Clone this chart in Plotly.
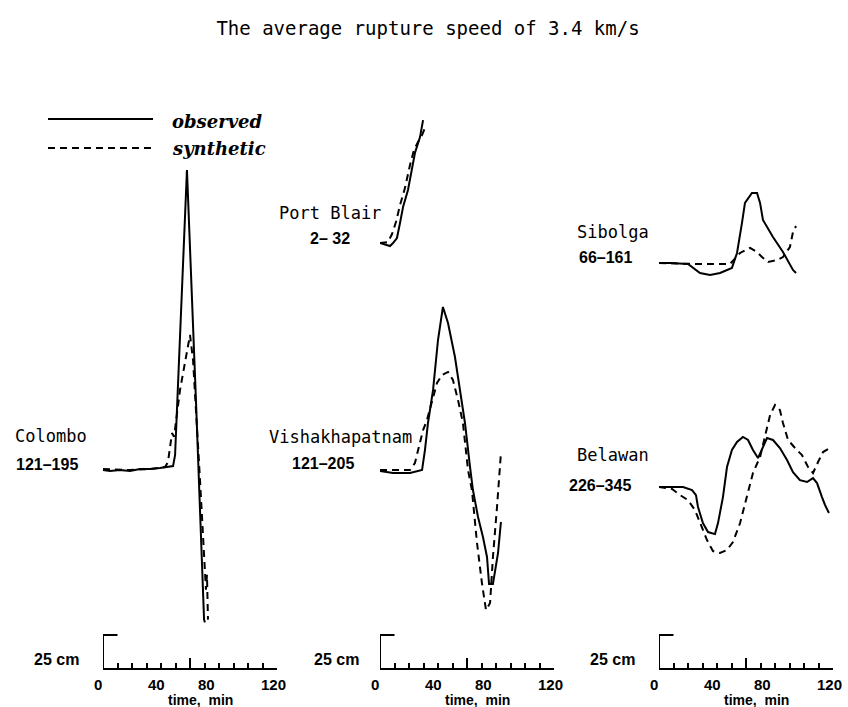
import plotly.graph_objects as go

# ---------------- data (time in min since window start, amplitude in cm) ----------------
colombo_obs_t = [0, 4.8, 11.7, 18.6, 25.5, 32.4, 39.3, 46.2, 48.3, 49.7, 57.9, 64.1, 69.7, 70.3]
colombo_obs_cm = [0, -0.7, 0, -0.7, 0.7, 0.7, 1.5, 2.2, 2.9, 11, 220.6, 51.5, -110, -112]
colombo_syn_t = [0, 18.6, 32.4, 42.8, 44.8, 47.6, 49.0, 53.1, 60.0, 62.1, 66.9, 69.7, 71.0, 71.7, 72.4]
colombo_syn_cm = [0.7, 0, 0.7, 2.2, 5.9, 27.2, 24.5, 58.8, 99.3, 80.9, -7.4, -66, -88, -77, -110]

portblair_obs_t = [0, 3.4, 6.9, 9.0, 11.7, 13.8, 15.9, 19.3, 22.1, 24.1, 27.6, 29.7]
portblair_obs_cm = [0, -1.0, -2.2, 0, 3.7, 14.7, 26.5, 39.0, 53.7, 66.2, 77.9, 90.4]
portblair_syn_t = [0, 5.5, 8.3, 11.0, 13.8, 17.2, 20.7, 23.4, 26.2, 29.0, 31.0]
portblair_syn_cm = [0, 0.7, 6.6, 15.4, 27.9, 40.4, 57.4, 68.4, 74.3, 79.4, 84.6]

vishak_obs_t = [0, 9.0, 20.7, 29.0, 31.0, 33.1, 36.6, 40.0, 43.4, 46.9, 51.7, 55.2, 58.6, 62.1,
                64.1, 67.6, 71.0, 73.8, 75.2, 77.9, 81.4, 83.4]
vishak_obs_cm = [0, -1.5, -1.5, 0.7, 15.4, 35.3, 59.6, 96.3, 120.6, 108.8, 83.8, 59.6, 35.3, 2.9,
                 -14.0, -33.8, -48.5, -63.2, -83.1, -83.1, -60.3, -37.5]
vishak_syn_t = [0, 9.0, 20.7, 24.1, 27.6, 29.7, 32.4, 35.9, 39.3, 42.8, 46.9, 50.3, 53.8, 57.2,
                60.7, 63.4, 66.9, 70.3, 73.1, 75.9, 77.9, 80.7, 83.4]
vishak_syn_cm = [0.7, 0.7, 0.7, 5.9, 20.6, 30.1, 37.5, 52.2, 64.7, 70.6, 72.8, 66.9, 52.2, 35.3,
                 0.7, -14.0, -52.9, -82.4, -102.2, -97.1, -63.2, -26.5, 13.2]

sibolga_obs_t = [0, 7.6, 20.0, 23.4, 28.3, 35.2, 42.1, 50.3, 53.8, 57.2, 59.3, 64.1, 67.6, 69.7,
                 71.7, 78.6, 85.5, 92.4, 94.5]
sibolga_obs_cm = [0.7, 0.7, 0, -2.9, -6.6, -8.1, -6.6, -2.9, 8.1, 30.1, 44.9, 52.2, 52.2, 44.9,
                  32.4, 19.9, 8.8, -4.4, -6.6]
sibolga_syn_t = [0, 26.2, 49.0, 55.9, 62.8, 67.6, 71.0, 75.2, 81.4, 85.5, 90.3, 92.4, 94.5]
sibolga_syn_cm = [0.7, 0, 0, 8.1, 11.8, 8.8, 5.1, 1.5, 2.9, 5.1, 12.5, 23.5, 27.9]

belawan_obs_t = [0, 16.6, 22.8, 25.5, 26.9, 30.3, 33.8, 38.6, 40.7, 44.1, 46.9, 50.3, 53.8, 57.9,
                 61.4, 64.8, 68.3, 71.7, 74.5, 78.6, 83.4, 88.3, 92.4, 97.2, 102.1, 106.2, 109.0,
                 112.4, 114.5, 117.2]
belawan_obs_cm = [0, 0, -2.2, -5.9, -14.7, -26.5, -33.1, -34.6, -26.5, -7.4, 14.7, 27.2, 33.1, 36.8,
                  34.6, 27.2, 21.3, 28.7, 36.0, 34.6, 28.7, 19.9, 11.0, 5.1, 3.7, 6.6, 2.9,
                  -7.4, -13.2, -19.1]
belawan_syn_t = [0, 9.0, 14.5, 20.0, 24.8, 28.3, 33.1, 37.2, 42.1, 46.9, 51.0, 55.9, 60.7, 64.8,
                 69.7, 73.1, 76.6, 80.0, 83.4, 85.5, 89.0, 93.8, 98.6, 102.8, 106.2, 109.7, 113.1, 116.6]
belawan_syn_cm = [0, -1.5, -5.9, -9.6, -16.9, -26.5, -39.0, -47.1, -48.5, -46.3, -40.4, -26.5, -7.4, 10.3,
                  22.1, 36.8, 52.9, 60.3, 56.6, 47.1, 34.6, 28.7, 23.5, 14.7, 10.3, 18.4, 25.7, 27.9]

station_names = ["Colombo", "Port Blair", "Vishakhapatnam", "Sibolga", "Belawan"]
station_windows = ["121–195", "2– 32", "121–205", "66–161", "226–345"]
time_tick_labels = ["0", "40", "80", "120"]
time_tick_values = [0, 40, 80, 120]
scale_bar_cm = 25

# ---------------- layout helpers ----------------
W, H = 848, 707
def px(x):
    return x / W
def py(y):
    return 1 - y / H

AXIS_PX = 669          # pixel row of time axes
CM_PX = 34 / 25        # pixels per cm
y_lo = (AXIS_PX - H) / CM_PX
y_hi = AXIS_PX / CM_PX

# station: (data arrays, column axis, baseline offset in cm above the time axis)
stations = [
    (colombo_obs_t, colombo_obs_cm, colombo_syn_t, colombo_syn_cm, "x", 146.3),
    (portblair_obs_t, portblair_obs_cm, portblair_syn_t, portblair_syn_cm, "x2", 313.2),
    (vishak_obs_t, vishak_obs_cm, vishak_syn_t, vishak_syn_cm, "x2", 145.6),
    (sibolga_obs_t, sibolga_obs_cm, sibolga_syn_t, sibolga_syn_cm, "x3", 297.8),
    (belawan_obs_t, belawan_obs_cm, belawan_syn_t, belawan_syn_cm, "x3", 133.8),
]

DASH = "7px,5px"
fig = go.Figure()
for ot, oc, st, sc, xa, off in stations:
    fig.add_trace(go.Scatter(x=st, y=[v + off for v in sc], xaxis=xa, yaxis="y", mode="lines",
                             line=dict(color="black", width=2, dash=DASH),
                             showlegend=False, hoverinfo="skip"))
    fig.add_trace(go.Scatter(x=ot, y=[v + off for v in oc], xaxis=xa, yaxis="y", mode="lines",
                             line=dict(color="black", width=2),
                             showlegend=False, hoverinfo="skip"))

col_px = [(103, 277), (380, 554), (659, 833)]
minor_vals = [v for v in range(10, 120, 10) if v != 60]
axis_common = dict(range=[0, 120], showgrid=False, zeroline=False, showline=True,
                   linecolor="black", linewidth=2, anchor="free", position=(H - AXIS_PX) / H,
                   tickmode="array", tickvals=[60, 120], ticks="inside", ticklen=10,
                   tickwidth=1.5, tickcolor="black", showticklabels=False,
                   minor=dict(tickmode="array", tickvals=minor_vals, ticks="inside", ticklen=5,
                              tickwidth=1.5, tickcolor="black"))
layout_axes = {}
for i, (a, b) in enumerate(col_px):
    name = "xaxis" if i == 0 else f"xaxis{i+1}"
    layout_axes[name] = dict(domain=[px(a), px(b)], **axis_common)

MONO = "DejaVu Sans Mono"
fig.update_layout(
    width=W, height=H, margin=dict(l=0, r=0, t=0, b=0),
    paper_bgcolor="white", plot_bgcolor="rgba(0,0,0,0)",
    yaxis=dict(domain=[0, 1], range=[y_lo, y_hi], visible=False),
    title=dict(text="The average rupture speed of 3.4 km/s", x=px(428), xanchor="center",
               y=py(28), yanchor="middle", yref="container",
               font=dict(family=MONO, size=19, color="black")),
    **layout_axes,
)

shapes = []
annotations = []
bold = dict(family="Liberation Sans", size=16, color="black", weight="bold")
for i, xa in enumerate(["x", "x2", "x3"]):
    # 25 cm scale bar
    shapes.append(dict(type="line", xref=xa, yref="y", x0=0, x1=0, y0=0, y1=scale_bar_cm,
                       line=dict(color="black", width=2)))
    shapes.append(dict(type="line", xref=xa, yref="y", x0=0, x1=10, y0=scale_bar_cm, y1=scale_bar_cm,
                       line=dict(color="black", width=2)))
    shifts = [-5, -5, -13, -4]
    for v, lab, sh in zip(time_tick_values, time_tick_labels, shifts):
        annotations.append(dict(text=lab, xref=xa, x=v, xshift=sh, yref="paper", y=py(684),
                                showarrow=False, xanchor="center", yanchor="middle",
                                font=dict(family="Liberation Sans", size=15, color="black", weight="bold")))
    annotations.append(dict(text="time,  min", xref=xa, x=67, yref="paper", y=py(700),
                            showarrow=False, xanchor="center", yanchor="middle",
                            font=dict(family="Liberation Sans", size=14, color="black", weight="bold")))

for xc in [32, 312, 588]:
    annotations.append(dict(text="25 cm", xref="paper", x=px(xc), yref="paper", y=py(659),
                            showarrow=False, xanchor="left", yanchor="middle", font=bold))

name_pos = [(13, 436), (277, 213), (267, 437), (575, 232), (575, 455)]
win_pos = [(14, 465), (308, 238), (290, 463), (577, 258), (567, 485)]
for nm, (nx, ny), wn, (wx, wy) in zip(station_names, name_pos, station_windows, win_pos):
    annotations.append(dict(text=nm, xref="paper", x=px(nx), yref="paper", y=py(ny),
                            showarrow=False, xanchor="left", yanchor="middle",
                            font=dict(family=MONO, size=17, color="black")))
    annotations.append(dict(text=wn, xref="paper", x=px(wx), yref="paper", y=py(wy),
                            showarrow=False, xanchor="left", yanchor="middle", font=bold))

# legend
shapes.append(dict(type="line", xref="paper", yref="paper", x0=px(48), x1=px(153), y0=py(119), y1=py(119),
                   line=dict(color="black", width=2)))
shapes.append(dict(type="line", xref="paper", yref="paper", x0=px(48), x1=px(153), y0=py(148), y1=py(148),
                   line=dict(color="black", width=2, dash=DASH)))
for txt, yy in [("observed", 121), ("synthetic", 148)]:
    annotations.append(dict(text=txt, xref="paper", x=px(170), yref="paper", y=py(yy),
                            showarrow=False, xanchor="left", yanchor="middle",
                            font=dict(family="DejaVu Serif", size=18, color="black",
                                      weight="bold", style="italic")))

fig.update_layout(shapes=shapes, annotations=annotations)
fig.write_html("out.html", config={"displayModeBar": False},
               post_script="document.body.style.margin='0px';")
